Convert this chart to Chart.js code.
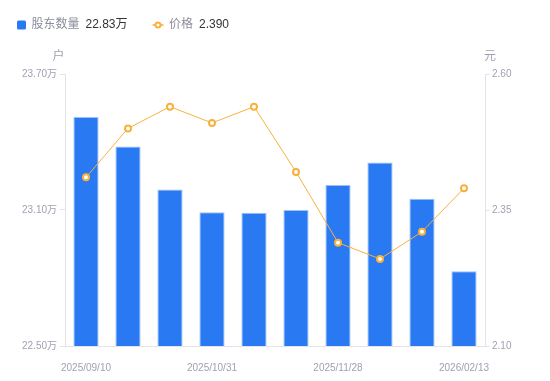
<!DOCTYPE html>
<html>
<head>
<meta charset="utf-8">
<script src="https://cdn.jsdelivr.net/npm/chart.js@4"></script>
<style>
html,body{margin:0;padding:0;background:#fff;}
#wrap{position:relative;width:550px;height:381px;}
</style>
</head>
<body>
<div id="wrap"><canvas id="c" width="550" height="381"></canvas></div>
<script>
// ---- data ----
const categories = ['2025/09/10', '', '', '2025/10/31', '', '', '2025/11/28', '', '', '2026/02/13'];
const holders = [23.51, 23.38, 23.19, 23.09, 23.088, 23.10, 23.21, 23.31, 23.15, 22.83]; // 万户
const prices = [2.41, 2.50, 2.54, 2.51, 2.54, 2.42, 2.29, 2.26, 2.31, 2.39]; // 元
const leftTicks = [22.50, 23.10, 23.70];
const rightTicks = [2.10, 2.35, 2.60];
const holdersLabel = '股东数量';
const priceLabel = '价格';
const leftUnit = '户';
const rightUnit = '元';

const BLUE = '#2979F3';
const ORANGE = '#F8B13A';
const TICK_COLOR = '#9fa2b2';
const AXIS_COLOR = '#e3e3e8';
const FONT = 'Arial, "Liberation Sans", "Noto Sans CJK SC", sans-serif';

const extrasPlugin = {
  id: 'extras',
  afterDraw(chart) {
    const ctx = chart.ctx;
    ctx.save();
    // legend
    ctx.textBaseline = 'middle';
    ctx.textAlign = 'left';
    const ly = 25;
    // item 1
    ctx.fillStyle = BLUE;
    ctx.beginPath();
    if (ctx.roundRect) ctx.roundRect(17, 20.5, 9, 9, 1.5); else ctx.rect(17, 20.5, 9, 9);
    ctx.fill();
    ctx.font = '12px ' + FONT;
    ctx.fillStyle = '#8b8d9b';
    ctx.fillText(holdersLabel, 31.5, ly);
    let w = ctx.measureText(holdersLabel).width;
    ctx.fillStyle = '#333333';
    ctx.fillText(holders[holders.length - 1].toFixed(2) + '万', 31.5 + w + 6, ly);
    // item 2
    ctx.strokeStyle = ORANGE;
    ctx.lineWidth = 1.5;
    ctx.beginPath();
    ctx.moveTo(152.5, ly); ctx.lineTo(163.5, ly); ctx.stroke();
    ctx.fillStyle = '#fff';
    ctx.lineWidth = 2;
    ctx.beginPath(); ctx.arc(158, ly, 2.5, 0, Math.PI * 2); ctx.fill(); ctx.stroke();
    ctx.fillStyle = '#8b8d9b';
    ctx.fillText(priceLabel, 169, ly);
    w = ctx.measureText(priceLabel).width;
    ctx.fillStyle = '#333333';
    ctx.fillText(prices[prices.length - 1].toFixed(3), 169 + w + 6, ly);
    // axis units
    ctx.font = '12px ' + FONT;
    ctx.fillStyle = TICK_COLOR;
    ctx.textAlign = 'center';
    ctx.fillText(leftUnit, 58.5, 57);
    ctx.fillText(rightUnit, 490, 57);
    ctx.restore();
  }
};

new Chart(document.getElementById('c'), {
  data: {
    labels: categories,
    datasets: [
      {
        type: 'line',
        label: priceLabel,
        data: prices,
        yAxisID: 'y1',
        borderColor: ORANGE,
        borderWidth: 1,
        pointRadius: 3,
        pointBorderWidth: 2,
        pointBackgroundColor: '#ffffff',
        pointBorderColor: ORANGE,
        tension: 0,
        order: 0
      },
      {
        type: 'bar',
        label: holdersLabel,
        data: holders,
        yAxisID: 'y',
        backgroundColor: BLUE,
        borderColor: '#9cc0f7',
        borderWidth: {top: 1, left: 1, right: 1, bottom: 0},
        barPercentage: 0.6,
        categoryPercentage: 1.0,
        order: 1
      }
    ]
  },
  options: {
    responsive: false,
    animation: false,
    devicePixelRatio: 1,
    layout: {padding: {top: 74, left: 0, right: 0, bottom: 0}},
    plugins: {legend: {display: false}, tooltip: {enabled: false}},
    scales: {
      x: {
        type: 'category',
        offset: true,
        grid: {display: false},
        border: {display: true, color: AXIS_COLOR, width: 1},
        ticks: {
          autoSkip: false, maxRotation: 0, minRotation: 0, padding: 8,
          color: TICK_COLOR, font: {size: 10, family: FONT}
        },
        afterFit(s) { s.height = 35; }
      },
      y: {
        position: 'left',
        min: leftTicks[0], max: leftTicks[leftTicks.length - 1],
        grid: {drawOnChartArea: false, drawTicks: true, tickLength: 5, color: AXIS_COLOR},
        border: {display: true, color: AXIS_COLOR, width: 1},
        afterBuildTicks(s) { s.ticks = leftTicks.map(v => ({value: v})); },
        ticks: {
          padding: 3, color: TICK_COLOR, font: {size: 10, family: FONT},
          callback: v => Number(v).toFixed(2) + '万'
        },
        afterFit(s) { s.width = 65; }
      },
      y1: {
        position: 'right',
        min: rightTicks[0], max: rightTicks[rightTicks.length - 1],
        grid: {drawOnChartArea: false, drawTicks: true, tickLength: 5, color: AXIS_COLOR},
        border: {display: true, color: AXIS_COLOR, width: 1},
        afterBuildTicks(s) { s.ticks = rightTicks.map(v => ({value: v})); },
        ticks: {
          padding: 2, color: TICK_COLOR, font: {size: 10, family: FONT},
          callback: v => Number(v).toFixed(2)
        },
        afterFit(s) { s.width = 65; }
      }
    }
  },
  plugins: [extrasPlugin]
});
</script>
</body>
</html>
